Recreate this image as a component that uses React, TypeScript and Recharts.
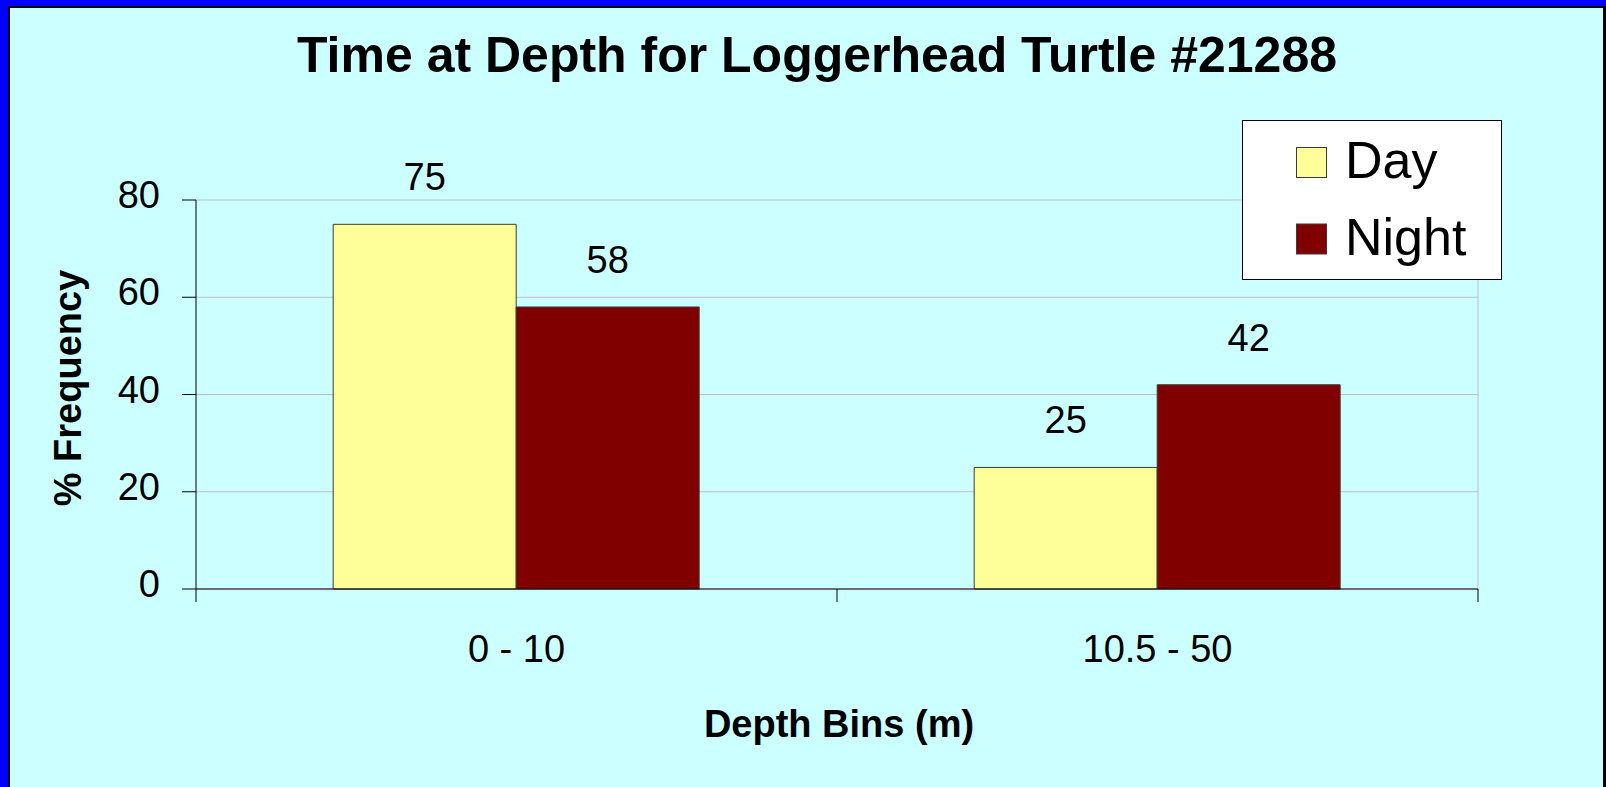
import React from "react";
import * as Recharts from "recharts";
import {
  BarChart,
  Bar,
  XAxis,
  YAxis,
  CartesianGrid,
  LabelList,
} from "recharts";

const categories = ["0 - 10", "10.5 - 50"];
const dayValues = [75, 25];
const nightValues = [58, 42];
const seriesNames = ["Day", "Night"];
const seriesColors = ["#FFFF99", "#800000"];
const yTicks = [0, 20, 40, 60, 80];

const data = categories.map((c, i) => ({
  name: c,
  day: dayValues[i],
  night: nightValues[i],
}));

const FONT = "'Liberation Sans', Arial, Helvetica, sans-serif";

const usePA: any =
  (Recharts as any).usePlotArea ||
  (Recharts as any).useOffset ||
  (() => null);

const XTick = (props: any) => {
  const { x, y, payload } = props;
  return (
    <text x={x} y={y + 73} textAnchor="middle" fontFamily={FONT} fontSize={38} fill="#000">
      {payload.value}
    </text>
  );
};

const YTick = (props: any) => {
  const { x, y, payload } = props;
  return (
    <text x={x} y={y + 8} textAnchor="end" fontFamily={FONT} fontSize={38} fill="#000">
      {payload.value}
    </text>
  );
};

const Frame = () => {
  const pa = usePA();
  if (!pa) return null;
  const left = pa.x ?? pa.left;
  const top = pa.y ?? pa.top;
  const w = pa.width;
  const h = pa.height;
  const bottom = top + h;
  const n = categories.length;
  const ticks = [] as React.ReactNode[];
  for (let i = 0; i <= n; i++) {
    const tx = left + (w * i) / n;
    ticks.push(
      <line key={i} x1={tx} y1={bottom} x2={tx} y2={bottom + 13} stroke="#000" strokeWidth={1} />
    );
  }
  return (
    <g>
      <line x1={left + w} y1={top} x2={left + w} y2={bottom} stroke="#c4bcc4" strokeWidth={1} />
      {ticks}
    </g>
  );
};

export default function App() {
  return (
    <div
      style={{
        position: "absolute",
        left: 0,
        top: 0,
        width: 1606,
        height: 787,
        overflow: "hidden",
        background: "#0000FF",
      }}
    >
      <div
        style={{
          position: "absolute",
          left: 8,
          top: 6,
          width: 1598,
          height: 800,
          boxSizing: "border-box",
          borderTop: "2px solid #000",
          borderLeft: "2px solid #000",
          borderRight: "3px solid #000",
          background: "#CCFFFF",
        }}
      />
      <div style={{ position: "absolute", left: 0, top: 0 }}>
        <BarChart
          width={1606}
          height={787}
          data={data}
          margin={{ top: 200, right: 128, left: 96, bottom: 98 }}
          barCategoryGap="21.4%"
          barGap={0}
        >
          <CartesianGrid horizontal={true} vertical={false} stroke="#c4bcc4" strokeWidth={1} />
          <Frame />
          <XAxis
            dataKey="name"
            type="category"
            height={100}
            tickLine={false}
            tickSize={0}
            tickMargin={0}
            axisLine={{ stroke: "#000", strokeWidth: 1 }}
            tick={XTick}
            interval={0}
          />
          <YAxis
            domain={[0, 80]}
            ticks={yTicks}
            width={100}
            tickSize={14}
            tickMargin={22}
            tickLine={{ stroke: "#000", strokeWidth: 1 }}
            axisLine={{ stroke: "#000", strokeWidth: 1 }}
            tick={YTick}
            interval={0}
          />
          <Bar
            dataKey="day"
            name={seriesNames[0]}
            fill={seriesColors[0]}
            stroke="#3a3a3a"
            strokeWidth={1}
            isAnimationActive={false}
          >
            <LabelList dataKey="day" position="top" offset={34} fontSize={38} fill="#000" fontFamily={FONT} />
          </Bar>
          <Bar
            dataKey="night"
            name={seriesNames[1]}
            fill={seriesColors[1]}
            stroke="#3a3a3a"
            strokeWidth={1}
            isAnimationActive={false}
          >
            <LabelList dataKey="night" position="top" offset={34} fontSize={38} fill="#000" fontFamily={FONT} />
          </Bar>
        </BarChart>
      </div>
      <svg
        width={1606}
        height={787}
        style={{ position: "absolute", left: 0, top: 0, pointerEvents: "none" }}
      >
        <text x={817} y={72} textAnchor="middle" fontFamily={FONT} fontWeight="bold" fontSize={50} fill="#000">
          Time at Depth for Loggerhead Turtle #21288
        </text>
        <text x={839} y={737} textAnchor="middle" fontFamily={FONT} fontWeight="bold" fontSize={38} fill="#000">
          Depth Bins (m)
        </text>
        <text
          x={81}
          y={388}
          transform="rotate(-90 81 388)"
          textAnchor="middle"
          fontFamily={FONT}
          fontWeight="bold"
          fontSize={38}
          fill="#000"
        >
          % Frequency
        </text>
        <rect x={1242.5} y={120.5} width={259} height={159} fill="#fff" stroke="#000" strokeWidth={1} />
        {seriesNames.map((n, i) => (
          <g key={n}>
            <rect
              x={1296.5}
              y={147.5 + i * 76.5}
              width={30}
              height={30}
              fill={seriesColors[i]}
              stroke="#3a3a3a"
              strokeWidth={1}
            />
            <text x={1345} y={178 + i * 77} fontFamily={FONT} fontSize={52} fill="#000">
              {n}
            </text>
          </g>
        ))}
      </svg>
    </div>
  );
}
